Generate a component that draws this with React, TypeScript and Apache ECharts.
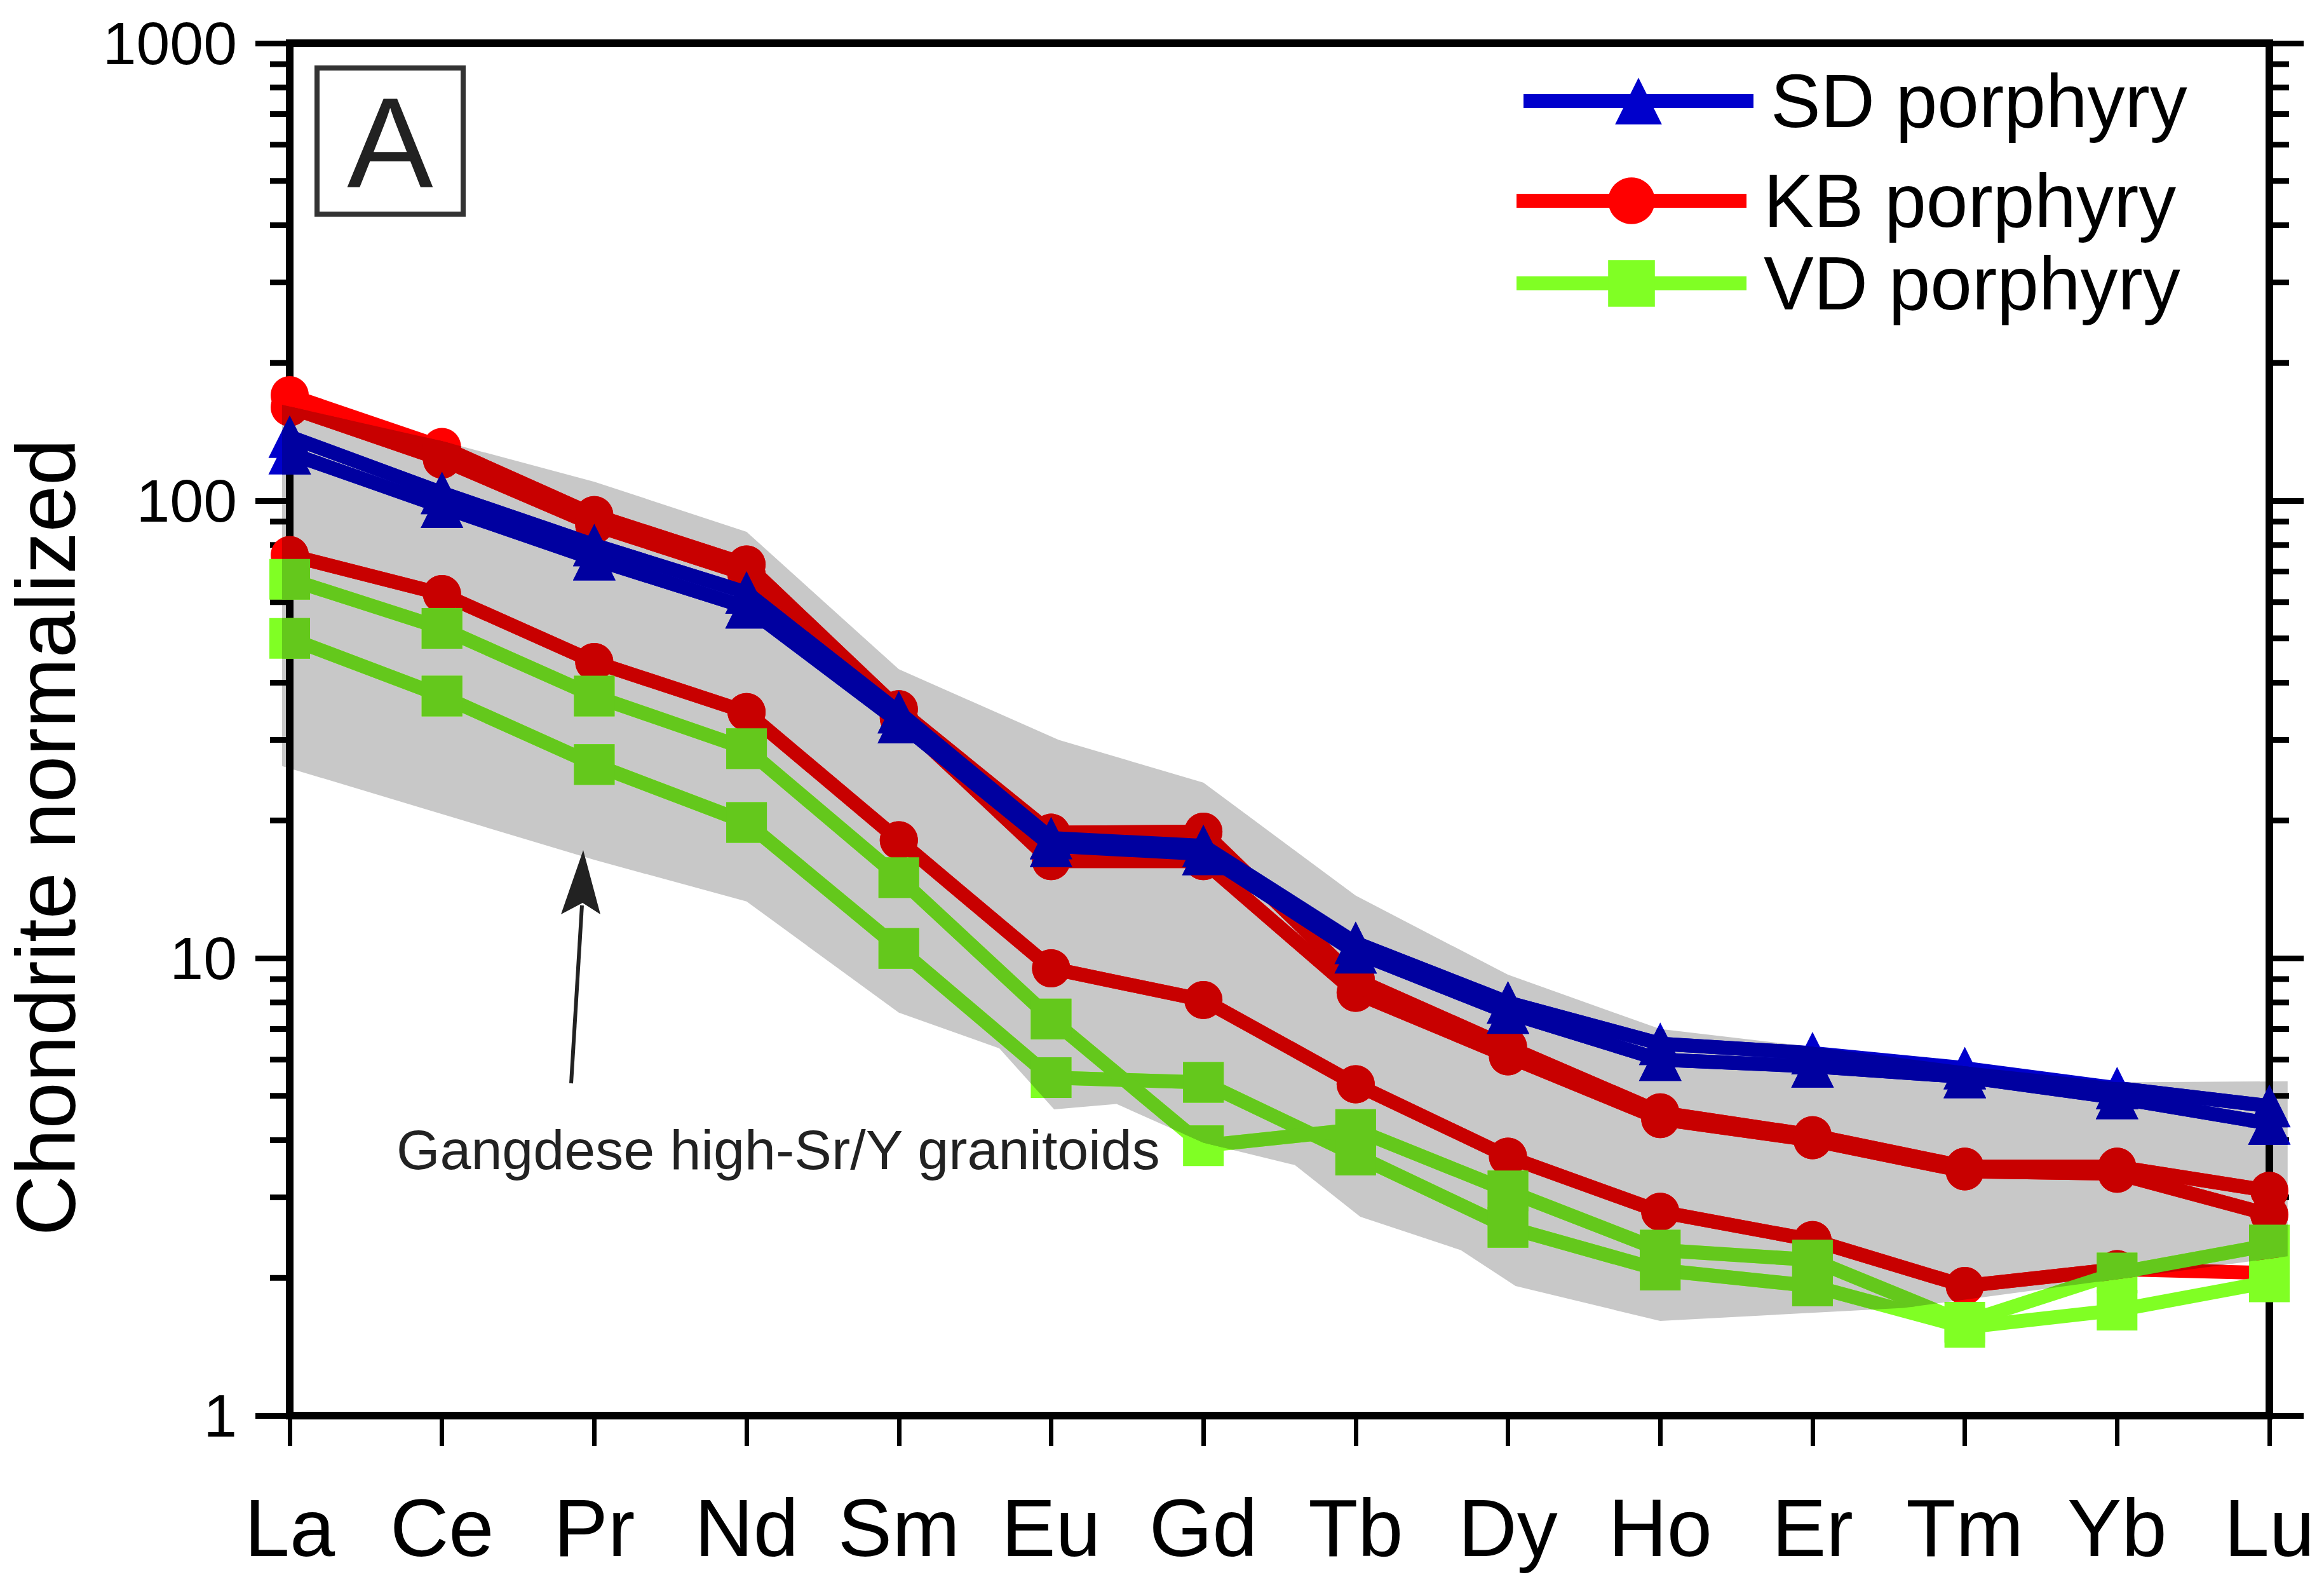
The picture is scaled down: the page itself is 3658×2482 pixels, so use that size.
import React, { useEffect, useRef } from 'react';
import * as echarts from 'echarts';

// ---------- data ----------
const elements = ['La', 'Ce', 'Pr', 'Nd', 'Sm', 'Eu', 'Gd', 'Tb', 'Dy', 'Ho', 'Er', 'Tm', 'Yb', 'Lu'];

const sdSample1 = [138, 104, 80, 63, 34.5, 18.3, 17.6, 10.8, 8.0, 6.5, 6.2, 5.75, 5.2, 4.75];
const sdSample2 = [127, 97, 74.5, 58.5, 32.8, 17.6, 16.9, 10.3, 7.6, 6.0, 5.8, 5.5, 4.95, 4.35];

const kbSample1 = [170, 131, 93, 72.5, 35, 18.8, 18.9, 9.0, 6.4, 4.6, 4.1, 3.5, 3.5, 3.1];
const kbSample2 = [160, 123, 88.5, 69, 33.5, 16.3, 16.3, 8.4, 6.1, 4.45, 4.0, 3.42, 3.38, 2.75];
const kbSample3 = [76, 62.5, 44.4, 34.5, 18.1, 9.5, 8.1, 5.3, 3.68, 2.79, 2.42, 1.92, 2.09, 2.05];

const vdSample1 = [67.3, 52.6, 37.4, 28.7, 15.0, 7.36, 3.89, 4.22, 3.1, 2.3, 2.19, 1.6, 2.05, 2.36];
const vdSample2 = [50, 37.4, 26.5, 19.8, 10.5, 5.48, 5.35, 3.71, 2.58, 2.08, 1.92, 1.56, 1.7, 1.96];

// Gangdese high-Sr/Y granitoid field (x = element index, may be fractional)
const bandUpperX = [-0.05, 1, 2, 3, 4, 5.05, 6, 7, 8, 9, 10, 11, 12, 13.12];
const bandUpperV = [162, 135, 110, 85.5, 42.8, 30, 24.2, 13.7, 9.2, 7.0, 6.4, 5.8, 5.35, 5.38];
const bandLowerX = [-0.05, 2, 3, 4, 4.66, 5.02, 5.43, 6.0, 6.6, 7.03, 7.69, 8.05, 9, 10.6, 13.12];
const bandLowerV = [26.3, 16.4, 13.3, 7.6, 6.35, 4.67, 4.8, 3.95, 3.53, 2.72, 2.3, 1.92, 1.61, 1.72, 2.23];

const yMinorTicks = [2, 3, 4, 5, 6, 7, 8, 9, 20, 30, 40, 50, 60, 70, 80, 90, 200, 300, 400, 500, 600, 700, 800, 900];

const legendNames = ['SD porphyry', 'KB porphyry', 'VD porphyry'];

// ---------- styles ----------
const FONT = '"Liberation Sans", Arial, Helvetica, sans-serif';
const BAND = '#C8C8C8';
const RED = '#FF0000';
const GREEN = '#80FF24';
const BLUE = '#0000CC';
const LINE_W = 22;

const mult = (hex: string, g = 200) => {
  const n = parseInt(hex.slice(1), 16);
  const f = (c: number) => Math.round((c * g) / 255);
  return `rgb(${f((n >> 16) & 255)},${f((n >> 8) & 255)},${f(n & 255)})`;
};

type Def = { name: string; symbol: string; size: number; color: string; values: number[] };
const defs: Def[] = [
  { name: 'KB porphyry', symbol: 'circle', size: 60, color: RED, values: kbSample3 },
  { name: 'KB porphyry', symbol: 'circle', size: 60, color: RED, values: kbSample2 },
  { name: 'KB porphyry', symbol: 'circle', size: 60, color: RED, values: kbSample1 },
  { name: 'VD porphyry', symbol: 'rect', size: 64, color: GREEN, values: vdSample2 },
  { name: 'VD porphyry', symbol: 'rect', size: 64, color: GREEN, values: vdSample1 },
  { name: 'SD porphyry', symbol: 'triangle', size: 67, color: BLUE, values: sdSample1 },
  { name: 'SD porphyry', symbol: 'triangle', size: 67, color: BLUE, values: sdSample2 },
];

const bandPoints = (api: any) => {
  const up = bandUpperX.map((x, i) => api.coord([x, bandUpperV[i]]));
  const lo = bandLowerX.map((x, i) => api.coord([x, bandLowerV[i]])).reverse();
  return [...up, ...lo];
};

const symbolEl = (sym: string, p: number[], s: number, fill: string) => {
  const h = s / 2;
  if (sym === 'circle') return { type: 'circle', shape: { cx: p[0], cy: p[1], r: h }, style: { fill } };
  if (sym === 'rect') return { type: 'rect', shape: { x: p[0] - h, y: p[1] - h, width: s, height: s }, style: { fill } };
  return {
    type: 'polygon',
    shape: { points: [[p[0], p[1] - h], [p[0] + h, p[1] + h], [p[0] - h, p[1] + h]] },
    style: { fill },
  };
};

const legendRows = [
  { name: legendNames[0], left: 2387, y: 159 },
  { name: legendNames[1], left: 2376, y: 316 },
  { name: legendNames[2], left: 2376, y: 446 },
];

const AXIS_LINE = { show: true, onZero: false, lineStyle: { color: '#000', width: 12, cap: 'square' } };

export default function App() {
  const ref = useRef<HTMLDivElement>(null);

  useEffect(() => {
    if (!ref.current) return;
    const chart = echarts.init(ref.current, null, { renderer: 'svg' });

    const lineSeries = defs.map((d) => ({
      type: 'line',
      name: d.name,
      data: d.values.map((v, i) => [i, v]),
      symbol: d.symbol,
      symbolSize: d.size,
      showSymbol: true,
      clip: false,
      z: 2,
      lineStyle: { color: d.color, width: LINE_W, join: 'round', cap: 'butt' },
      itemStyle: { color: d.color, borderWidth: 0 },
      emphasis: { disabled: true },
      silent: true,
    }));

    const option: any = {
      animation: false,
      backgroundColor: '#ffffff',
      grid: { left: 456, right: 86, top: 68, bottom: 254, containLabel: false },
      legend: legendRows.map((r) => ({
        data: [r.name],
        left: r.left,
        top: r.y - 59,
        padding: 0,
        itemWidth: 362,
        itemHeight: 92,
        selectedMode: false,
        lineStyle: { width: LINE_W },
        textStyle: { fontSize: 118, color: '#000', fontFamily: FONT, padding: [0, 0, 0, 22] },
      })),
      xAxis: [
        {
          type: 'value',
          min: 0,
          max: 13,
          interval: 1,
          position: 'bottom',
          z: 1,
          axisLine: AXIS_LINE,
          axisTick: { show: true, inside: false, length: 48, lineStyle: { color: '#000', width: 7 } },
          axisLabel: {
            show: true,
            margin: 112,
            fontSize: 128,
            color: '#000',
            fontFamily: FONT,
            formatter: (v: number) => elements[Math.round(v)] ?? '',
          },
          splitLine: { show: false },
        },
        {
          type: 'value',
          min: 0,
          max: 13,
          interval: 1,
          position: 'top',
          z: 1,
          axisLine: AXIS_LINE,
          axisTick: { show: false },
          axisLabel: { show: false },
          splitLine: { show: false },
        },
      ],
      yAxis: [
        {
          type: 'log',
          logBase: 10,
          min: 1,
          max: 1000,
          position: 'left',
          z: 1,
          axisLine: AXIS_LINE,
          axisTick: { show: true, inside: false, length: 54, lineStyle: { color: '#000', width: 9 } },
          minorTick: { show: false },
          axisLabel: {
            show: true,
            margin: 83,
            fontSize: 95,
            color: '#000',
            fontFamily: FONT,
            padding: [0, 0, 20, 0],
            formatter: (v: number) => String(Math.round(v)),
          },
          splitLine: { show: false },
        },
        {
          type: 'log',
          logBase: 10,
          min: 1,
          max: 1000,
          position: 'right',
          z: 1,
          axisLine: AXIS_LINE,
          axisTick: { show: true, inside: false, length: 54, lineStyle: { color: '#000', width: 9 } },
          axisLabel: { show: false },
          splitLine: { show: false },
        },
      ],
      series: [
        {
          type: 'custom',
          name: 'band',
          z: 0,
          silent: true,
          clip: false,
          data: [[0, 1]],
          renderItem: (_p: any, api: any) => ({
            type: 'polygon',
            shape: { points: bandPoints(api) },
            style: { fill: BAND },
          }),
        },
        {
          type: 'custom',
          name: 'minorTicks',
          z: 1,
          silent: true,
          clip: false,
          data: [[0, 1]],
          renderItem: (_p: any, api: any) => {
            const children: any[] = [];
            yMinorTicks.forEach((v) => {
              const l = api.coord([0, v]);
              const r = api.coord([13, v]);
              children.push({
                type: 'line',
                shape: { x1: l[0] - 31, y1: l[1], x2: l[0], y2: l[1] },
                style: { stroke: '#000', lineWidth: 9 },
              });
              children.push({
                type: 'line',
                shape: { x1: r[0], y1: r[1], x2: r[0] + 31, y2: r[1] },
                style: { stroke: '#000', lineWidth: 9 },
              });
            });
            return { type: 'group', children };
          },
        },
        ...lineSeries,
        {
          type: 'custom',
          name: 'bandOverlay',
          z: 3,
          silent: true,
          clip: false,
          data: [[0, 1]],
          renderItem: (_p: any, api: any) => {
            const children: any[] = [];
            defs.forEach((d) => {
              const dark = mult(d.color);
              const pts = d.values.map((v, i) => api.coord([i, v]));
              children.push({
                type: 'polyline',
                shape: { points: pts },
                style: { stroke: dark, lineWidth: LINE_W, fill: null, lineJoin: 'round', lineCap: 'butt' },
              });
              pts.forEach((p: number[]) => children.push(symbolEl(d.symbol, p, d.size, dark)));
            });
            return {
              type: 'group',
              clipPath: { type: 'polygon', shape: { points: bandPoints(api) } },
              children,
            };
          },
        },
      ],
      graphic: [
        {
          type: 'rect',
          shape: { x: 499, y: 107, width: 230, height: 230 },
          style: { fill: 'none', stroke: '#333', lineWidth: 8 },
          z: 10,
        },
        {
          type: 'text',
          x: 614,
          y: 224,
          style: { text: 'A', fontSize: 203, fontFamily: FONT, fill: '#222', align: 'center', verticalAlign: 'middle' },
          z: 10,
        },
        {
          type: 'line',
          shape: { x1: 899, y1: 1705, x2: 916, y2: 1425 },
          style: { stroke: '#222', lineWidth: 6 },
          z: 10,
        },
        {
          type: 'polygon',
          shape: { points: [[918, 1338], [883, 1439], [917, 1421], [945, 1439]] },
          style: { fill: '#222' },
          z: 10,
        },
        {
          type: 'text',
          x: 624,
          y: 1809,
          style: {
            text: 'Gangdese high-Sr/Y granitoids',
            fontSize: 88,
            fontFamily: FONT,
            fill: '#222',
            align: 'left',
            verticalAlign: 'middle',
          },
          z: 10,
        },
        {
          type: 'text',
          x: 72,
          y: 1318,
          rotation: Math.PI / 2,
          style: {
            text: 'Chondrite normalized',
            fontSize: 132,
            fontFamily: FONT,
            fill: '#000',
            align: 'center',
            verticalAlign: 'middle',
          },
          z: 10,
        },
      ],
    };

    chart.setOption(option);
    return () => chart.dispose();
  }, []);

  return (
    <div
      ref={ref}
      style={{ position: 'fixed', left: 0, top: 0, width: 3658, height: 2482, background: '#fff' }}
    />
  );
}
